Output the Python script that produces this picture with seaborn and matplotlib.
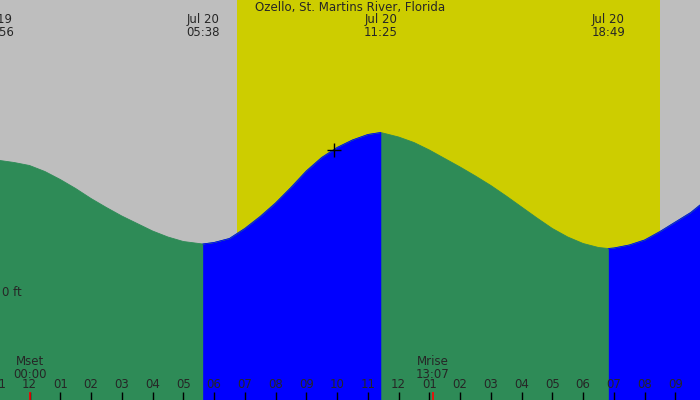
import numpy as np
import pandas as pd
import matplotlib
matplotlib.use("Agg")
import matplotlib.pyplot as plt
import matplotlib.transforms as mtransforms
import seaborn as sns

# tide heights, hours from midnight Jul 20
hours = [-0.96, -0.5, 0, 0.5, 1, 1.5, 2, 2.5, 3, 3.5, 4, 4.5, 5, 5.63, 6, 6.5,
         7, 7.5, 8, 8.5, 9, 9.5, 10, 10.5, 11, 11.42, 12, 12.5, 13, 13.5,
         14, 14.5, 15, 15.5, 16, 16.5, 17, 17.5, 18, 18.5, 18.82, 19, 19.5,
         20, 20.5, 21, 21.5, 21.8]
height_ft = [2.63, 2.59, 2.53, 2.41, 2.25, 2.07, 1.87, 1.69, 1.52, 1.37, 1.22,
             1.10, 1.01, 0.96, 0.99, 1.07, 1.27, 1.51, 1.78, 2.09, 2.42, 2.69,
             2.89, 3.04, 3.15, 3.19, 3.10, 2.99, 2.84, 2.67, 2.50, 2.32, 2.13,
             1.92, 1.70, 1.48, 1.27, 1.10, 0.97, 0.89, 0.87, 0.88, 0.94, 1.04,
             1.21, 1.40, 1.59, 1.74]

# high / low tide events
event_hours = [-1.07, 5.63, 11.42, 18.82]
event_labels = ["Jul 19\n22:56", "Jul 20\n05:38", "Jul 20\n11:25", "Jul 20\n18:49"]

sunrise, sunset = 6.75, 20.5
moon_hours = [0.0, 13.117]
moon_labels = ["Mset\n00:00", "Mrise\n13:07"]

tick_hours = list(range(-1, 23))
tick_labels = ["%02d" % (((h % 12) or 12)) for h in tick_hours]

now_hour, now_ft = 9.9, 2.84
title = "Ozello, St. Martins River, Florida"

df = pd.DataFrame({"hour": hours, "ft": height_ft})

sns.set_style("white")
plt.rcParams["font.family"] = ["DejaVu Sans"]

fig = plt.figure(figsize=(7, 4), dpi=100)
ax = fig.add_axes([0, 0, 1, 1])
ax.set_facecolor("#bebebe")
ax.axvspan(sunrise, sunset, color="#cdcd00", lw=0)

ymin, ymax = -2.16, 5.84
green, blue = "#2e8b57", "#0000ff"
# whole curve green (falling), rising stretches painted blue on top
ax.fill_between(df.hour, df.ft, ymin, color=green, lw=0)
sns.lineplot(data=df, x="hour", y="ft", ax=ax, color=green, lw=0.6)
rising = [(event_hours[1], event_hours[2]), (event_hours[3], hours[-1])]
for a, b in rising:
    seg = df[(df.hour >= a) & (df.hour <= b)]
    ax.fill_between(seg.hour, seg.ft, ymin, color=blue, lw=0)
    sns.lineplot(data=seg, x="hour", y="ft", ax=ax, color=blue, lw=0.6)

ax.plot([now_hour], [now_ft], marker="+", color="black", ms=10, mew=1)

trans = mtransforms.blended_transform_factory(ax.transData, ax.transAxes)
ax.vlines(tick_hours, 0, 8 / 400, color="black", lw=1, transform=trans)
ax.vlines(moon_hours, 0, 8 / 400, color="red", lw=1.2, transform=trans)
for h, lab in zip(tick_hours, tick_labels):
    ax.text(h, 15 / 400, lab, transform=trans, ha="center", va="center", fontsize=8.5)
for h, lab in zip(moon_hours, moon_labels):
    ax.text(h, 32 / 400, lab, transform=trans, ha="center", va="center",
            fontsize=8.5, linespacing=1.0)
for h, lab in zip(event_hours, event_labels):
    ax.text(h, 1 - 26 / 400, lab, transform=trans, ha="center", va="center",
            fontsize=8.5, linespacing=1.0)
ax.text(350 / 700, 1 - 8 / 400, title, transform=ax.transAxes, ha="center",
        va="center", fontsize=8.5)
ax.text(2 / 700, 0.0, "0 ft", transform=mtransforms.blended_transform_factory(ax.transAxes, ax.transData),
        ha="left", va="center", fontsize=8.5)

ax.set_xlim(hours[0], hours[-1])
ax.set_ylim(ymin, ymax)
ax.set_xlabel("")
ax.set_ylabel("")
ax.set_xticks([])
ax.set_yticks([])
for s in ax.spines.values():
    s.set_visible(False)

fig.savefig("out.png", dpi=100)
